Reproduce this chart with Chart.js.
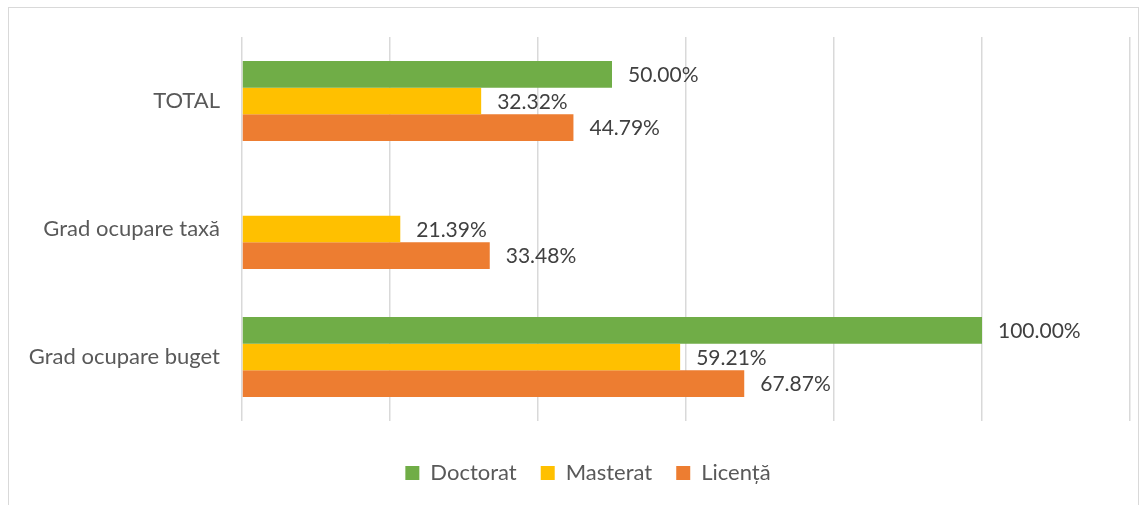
<!DOCTYPE html>
<html>
<head>
<meta charset="utf-8">
<script src="https://cdn.jsdelivr.net/npm/chart.js@4.4.1/dist/chart.umd.min.js"></script>
<style>
html,body{margin:0;padding:0;background:#fff;}
#wrap{position:relative;width:1145px;height:505px;overflow:hidden;}
#frame{position:absolute;left:8px;top:7px;width:1131px;height:520px;border:1px solid #d9d9d9;box-sizing:border-box;}
canvas{position:absolute;left:0;top:0;}
</style>
</head>
<body>
<div id="wrap">
<div id="frame"></div>
<canvas id="c" width="1145" height="505"></canvas>
</div>
<script>
const categories = ["TOTAL", "Grad ocupare taxă", "Grad ocupare buget"];
const seriesNames = ["Doctorat", "Masterat", "Licență"];
const doctorat = [50.00, null, 100.00];
const masterat = [32.32, 21.39, 59.21];
const licenta = [44.79, 33.48, 67.87];
const seriesColors = ["#70AD47", "#FFC000", "#ED7D31"];
const xTicks = [0, 20, 40, 60, 80, 100, 120];

const FONT = "Lato, 'Open Sans', sans-serif";

const labelPlugin = {
  id: 'barLabels',
  afterLayout(chart) {
    const l = chart.legend;
    if (l) { l.left += 23; l.right += 23; }
  },
  afterDatasetsDraw(chart) {
    const ctx = chart.ctx;
    ctx.save();
    ctx.font = "21px " + FONT;
    ctx.fillStyle = "#404040";
    ctx.textAlign = "left";
    ctx.textBaseline = "middle";
    chart.data.datasets.forEach((ds, i) => {
      const meta = chart.getDatasetMeta(i);
      meta.data.forEach((bar, j) => {
        const v = ds.data[j];
        if (v === null || v === undefined) return;
        ctx.fillText(v.toFixed(2) + "%", bar.x + 16, bar.y + 1);
      });
    });
    ctx.restore();
  }
};

new Chart(document.getElementById('c'), {
  type: 'bar',
  data: {
    labels: categories,
    datasets: [
      { label: seriesNames[0], data: doctorat, backgroundColor: seriesColors[0] },
      { label: seriesNames[1], data: masterat, backgroundColor: seriesColors[1] },
      { label: seriesNames[2], data: licenta, backgroundColor: seriesColors[2] }
    ]
  },
  options: {
    indexAxis: 'y',
    responsive: false,
    animation: false,
    devicePixelRatio: 1,
    datasets: { bar: { categoryPercentage: 0.625, barPercentage: 1.0 } },
    layout: { padding: { top: 37, right: 15, left: 0, bottom: 11 } },
    scales: {
      x: {
        min: 0, max: 120,
        afterBuildTicks(scale) { scale.ticks = xTicks.map(v => ({ value: v })); },
        afterFit(scale) { scale.height = 17; },
        ticks: { display: false },
        grid: { color: "#d9d9d9", lineWidth: 1.5, drawTicks: false },
        border: { display: false }
      },
      y: {
        afterFit(scale) { scale.width = 242; },
        ticks: { color: "#595959", font: { family: FONT, size: 22 }, padding: 22 },
        grid: { display: false, drawTicks: false },
        border: { display: false }
      }
    },
    plugins: {
      legend: {
        position: 'bottom',
        labels: {
          color: "#595959",
          font: { family: FONT, size: 22 },
          boxWidth: 14, boxHeight: 14, padding: 24,
          useBorderRadius: false
        }
      },
      tooltip: { enabled: false }
    }
  },
  plugins: [labelPlugin]
});
</script>
</body>
</html>
